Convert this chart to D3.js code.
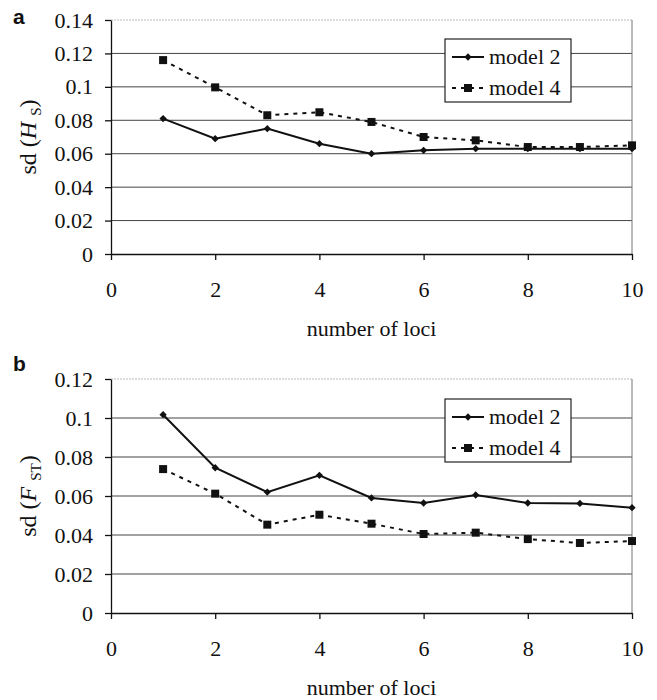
<!DOCTYPE html>
<html>
<head>
<meta charset="utf-8">
<script src="https://cdn.jsdelivr.net/npm/d3@7"></script>
<style>
  body { margin: 0; background: #fff; }
  svg text { font-family: "Liberation Serif", "Times New Roman", serif; fill: #111; }
</style>
</head>
<body>
<svg id="chart" width="657" height="700"></svg>
<script>
const loci = [1, 2, 3, 4, 5, 6, 7, 8, 9, 10];
const hsModel2 = [0.081, 0.069, 0.075, 0.066, 0.060, 0.062, 0.063, 0.063, 0.063, 0.063];
const hsModel4 = [0.116, 0.0997, 0.083, 0.0848, 0.079, 0.070, 0.068, 0.064, 0.064, 0.065];
const fstModel2 = [0.1017, 0.0745, 0.062, 0.0706, 0.059, 0.0564, 0.0605, 0.0564, 0.0562, 0.054];
const fstModel4 = [0.0738, 0.0612, 0.0453, 0.0504, 0.0458, 0.0405, 0.0412, 0.0379, 0.0359, 0.0369];
const xTicks = [0, 2, 4, 6, 8, 10];
const hsTicks = [0, 0.02, 0.04, 0.06, 0.08, 0.1, 0.12, 0.14];
const fstTicks = [0, 0.02, 0.04, 0.06, 0.08, 0.1, 0.12];
const seriesNames = ['model 2', 'model 4'];

const svg = d3.select('#chart');
const left = 111, right = 632;
const serif = '"Liberation Serif", "Times New Roman", serif';

const x = d3.scaleLinear().domain([0, 10]).range([left, right]);

function drawPanel(opts) {
    const y = d3.scaleLinear()
        .domain([0, d3.max(opts.ticks)])
        .range([opts.bottom, opts.top]);
    const g = svg.append('g');

    // gridlines, the top one is a faint dotted line
    g.selectAll('.grid')
        .data(opts.ticks.filter(t => t > 0))
        .enter().append('line')
        .attr('x1', left).attr('x2', right)
        .attr('y1', d => y(d)).attr('y2', d => y(d))
        .attr('stroke', (d, i, n) => i === n.length - 1 ? '#bbb' : '#444')
        .attr('stroke-dasharray', (d, i, n) => i === n.length - 1 ? '2,1' : null)
        .attr('stroke-width', 1);

    g.append('line')
        .attr('x1', right).attr('x2', right)
        .attr('y1', opts.top).attr('y2', opts.bottom)
        .attr('stroke', '#777');

    // axes
    const yAxis = g.append('g')
        .attr('transform', `translate(${left},0)`)
        .call(d3.axisLeft(y).tickValues(opts.ticks).tickSize(6).tickSizeOuter(0)
            .tickPadding(12).tickFormat(d => String(+d.toFixed(2))));
    yAxis.selectAll('text').style('font-size', '22px').style('font-family', serif);

    const xAxis = g.append('g')
        .attr('transform', `translate(0,${opts.bottom})`)
        .call(d3.axisBottom(x).tickValues(xTicks).tickSize(6).tickSizeOuter(0).tickPadding(21));
    xAxis.selectAll('text').style('font-size', '22px').style('font-family', serif);
    g.selectAll('.domain, .tick line').attr('stroke', '#111').attr('stroke-width', 1.3);

    // series
    const line = d3.line().x((d, i) => x(loci[i])).y(d => y(d));
    g.append('path').datum(opts.s4)
        .attr('d', line).attr('fill', 'none')
        .attr('stroke', '#111').attr('stroke-width', 2)
        .attr('stroke-dasharray', '4,5');
    g.append('path').datum(opts.s2)
        .attr('d', line).attr('fill', 'none')
        .attr('stroke', '#111').attr('stroke-width', 2);

    g.selectAll('.sq')
        .data(opts.s4)
        .enter().append('rect')
        .attr('x', (d, i) => x(loci[i]) - 4)
        .attr('y', d => y(d) - 4)
        .attr('width', 8).attr('height', 8)
        .attr('fill', '#111');
    g.selectAll('.dm')
        .data(opts.s2)
        .enter().append('path')
        .attr('d', d3.symbol(d3.symbolDiamond2, 34))
        .attr('transform', (d, i) => `translate(${x(loci[i])},${y(d)})`)
        .attr('fill', '#111');

    // legend
    const lg = g.append('g').attr('transform', `translate(445,${opts.legendTop})`);
    lg.append('rect')
        .attr('width', 126).attr('height', 63)
        .attr('fill', '#fff').attr('stroke', '#222').attr('stroke-width', 1.2);
    seriesNames.forEach((name, i) => {
        const cy = 18 + i * 31;
        lg.append('line')
            .attr('x1', 7).attr('x2', 39).attr('y1', cy).attr('y2', cy)
            .attr('stroke', '#111').attr('stroke-width', 2)
            .attr('stroke-dasharray', i === 1 ? '4,5' : null);
        if (i === 0) {
            lg.append('path').attr('d', d3.symbol(d3.symbolDiamond2, 34))
                .attr('transform', `translate(23,${cy})`).attr('fill', '#111');
        } else {
            lg.append('rect').attr('x', 19).attr('y', cy - 4)
                .attr('width', 8).attr('height', 8).attr('fill', '#111');
        }
        lg.append('text')
            .attr('x', 44).attr('y', cy + 7)
            .style('font-size', '22px')
            .text(name);
    });

    // axis titles
    svg.append('text')
        .attr('x', (left + right) / 2).attr('y', opts.bottom + 82)
        .attr('text-anchor', 'middle')
        .style('font-size', '22px')
        .text('number of loci');

    const t = svg.append('text')
        .attr('transform', `translate(36,${(opts.top + opts.bottom) / 2}) rotate(-90)`)
        .attr('text-anchor', 'middle')
        .style('font-size', '24px');
    t.append('tspan').text('sd (');
    t.append('tspan').style('font-style', 'italic').text(opts.sym + ' ');
    t.append('tspan').attr('dy', 5).style('font-size', '15px').text(opts.sub);
    t.append('tspan').attr('dy', -5).text(')');

    svg.append('text')
        .attr('x', 13).attr('y', opts.labelY)
        .style('font-family', '"Liberation Sans", Arial, sans-serif')
        .style('font-weight', 'bold')
        .style('font-size', '21px')
        .text(opts.label);
}

drawPanel({ top: 20, bottom: 254, ticks: hsTicks, s2: hsModel2, s4: hsModel4,
    legendTop: 39, sym: 'H', sub: 'S', label: 'a', labelY: 24 });
drawPanel({ top: 379, bottom: 613, ticks: fstTicks, s2: fstModel2, s4: fstModel4,
    legendTop: 399, sym: 'F', sub: 'ST', label: 'b', labelY: 371 });
</script>
</body>
</html>
